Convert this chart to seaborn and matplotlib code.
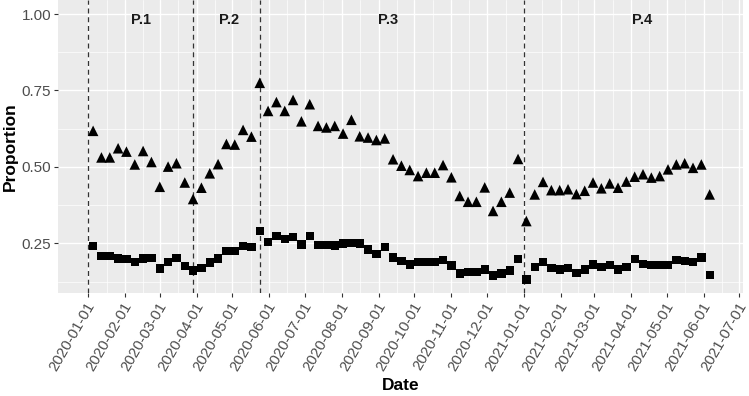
import numpy as np
import pandas as pd
import matplotlib
matplotlib.use("Agg")
import matplotlib.pyplot as plt
import matplotlib.dates as mdates
from matplotlib.transforms import ScaledTranslation
import seaborn as sns

# weekly observations, first week 2020-01-05
start_week = "2020-01-05"
n_weeks = 75

high = [0.618, 0.531, 0.531, 0.561, 0.550, 0.508, 0.552, 0.516, 0.435, 0.501,
        0.512, 0.449, 0.395, 0.432, 0.479, 0.509, 0.575, 0.573, 0.621, 0.599,
        0.775, 0.683, 0.712, 0.683, 0.719, 0.649, 0.705, 0.634, 0.629, 0.634,
        0.609, 0.654, 0.600, 0.596, 0.588, 0.593, 0.525, 0.504, 0.490, 0.470,
        0.481, 0.481, 0.506, 0.466, 0.405, 0.386, 0.386, 0.433, 0.356, 0.386,
        0.416, 0.526, 0.323, 0.410, 0.451, 0.424, 0.424, 0.427, 0.411, 0.422,
        0.449, 0.430, 0.446, 0.432, 0.452, 0.468, 0.476, 0.465, 0.470, 0.492,
        0.508, 0.512, 0.497, 0.508, 0.410]

low = [0.241, 0.209, 0.209, 0.201, 0.199, 0.190, 0.201, 0.202, 0.168, 0.188,
       0.203, 0.177, 0.161, 0.170, 0.187, 0.201, 0.226, 0.226, 0.241, 0.238,
       0.291, 0.254, 0.274, 0.265, 0.270, 0.246, 0.273, 0.245, 0.245, 0.243,
       0.250, 0.252, 0.250, 0.230, 0.216, 0.239, 0.204, 0.193, 0.181, 0.189,
       0.189, 0.189, 0.195, 0.178, 0.152, 0.156, 0.156, 0.165, 0.145, 0.152,
       0.161, 0.199, 0.132, 0.173, 0.189, 0.170, 0.165, 0.170, 0.154, 0.165,
       0.181, 0.173, 0.179, 0.164, 0.173, 0.198, 0.182, 0.179, 0.179, 0.179,
       0.195, 0.192, 0.190, 0.204, 0.146]

period_starts = ["2020-01-01", "2020-03-29", "2020-05-24", "2021-01-01"]
period_labels = ["P.1", "P.2", "P.3", "P.4"]
label_dates = ["2020-02-14", "2020-04-28", "2020-09-09", "2021-04-10"]

dates = pd.date_range(start_week, periods=n_weeks, freq="7D")
df = pd.DataFrame({
    "date": np.concatenate([dates, dates]),
    "prop": high + low,
    "group": ["high"] * n_weeks + ["low"] * n_weeks,
})

sns.set_theme(style="darkgrid")
plt.rcParams["font.family"] = ["Liberation Sans", "DejaVu Sans"]

fig = plt.figure(figsize=(7.49, 3.96), dpi=100)
ax = fig.add_axes([58 / 749, 1 - 293 / 396, (743 - 58) / 749, 293 / 396])
ax.set_facecolor("#EBEBEB")

for d in period_starts:
    ax.axvline(pd.Timestamp(d), color="#333333", lw=0.9, ls=(0, (4, 3)), zorder=2)

sns.scatterplot(data=df[df.group == "high"], x="date", y="prop", marker="^",
                color="black", s=58, edgecolor="none", ax=ax, zorder=3, legend=False)
sns.scatterplot(data=df[df.group == "low"], x="date", y="prop", marker="s",
                color="black", s=36, edgecolor="none", ax=ax, zorder=3, legend=False)

for lab, d in zip(period_labels, label_dates):
    ax.text(pd.Timestamp(d), 0.98, lab, ha="center", va="center",
            fontsize=10.5, fontweight="bold", color="#1a1a1a")

ax.set_xlim(pd.Timestamp("2020-01-01") - pd.Timedelta(days=25.5),
            pd.Timestamp("2020-01-01") + pd.Timedelta(days=550))
ax.set_ylim(0.0877, 1.0458)

months = pd.date_range("2020-01-01", "2021-07-01", freq="MS")
ax.set_xticks(months)
ax.xaxis.set_major_formatter(mdates.DateFormatter("%Y-%m-%d"))
mids = [months[i] + (months[i + 1] - months[i]) / 2 for i in range(len(months) - 1)]
ax.set_xticks(mids, minor=True)
ax.set_yticks([0.25, 0.50, 0.75, 1.00])
ax.set_yticklabels(["0.25", "0.50", "0.75", "1.00"])
ax.set_yticks([0.125, 0.375, 0.625, 0.875], minor=True)

ax.grid(which="major", color="white", lw=1.0)
ax.grid(which="minor", color="white", lw=0.5)
for s in ax.spines.values():
    s.set_visible(False)

ax.tick_params(axis="both", which="major", length=3, width=0.8, color="#333333",
               labelcolor="#4D4D4D", labelsize=11, pad=2, bottom=True, left=True)
ax.tick_params(axis="both", which="minor", length=0)
shift = ScaledTranslation(3.5 / 100, -3 / 100, fig.dpi_scale_trans)
for lab in ax.get_xticklabels():
    lab.set_rotation(60)
    lab.set_ha("right")
    lab.set_va("center")
    lab.set_rotation_mode("anchor")
    lab.set_fontsize(10.8)
    lab.set_transform(lab.get_transform() + shift)

ax.set_xlabel("Date", fontsize=12.5, fontweight="bold", color="black", va="center")
ax.xaxis.set_label_coords(0.5, -(386 - 293) / 293)
ax.set_ylabel("Proportion", fontsize=12.5, fontweight="bold", color="black", va="center")
ax.yaxis.set_label_coords((10 - 58) / 685, 0.5)

fig.savefig("out.png", dpi=100)
